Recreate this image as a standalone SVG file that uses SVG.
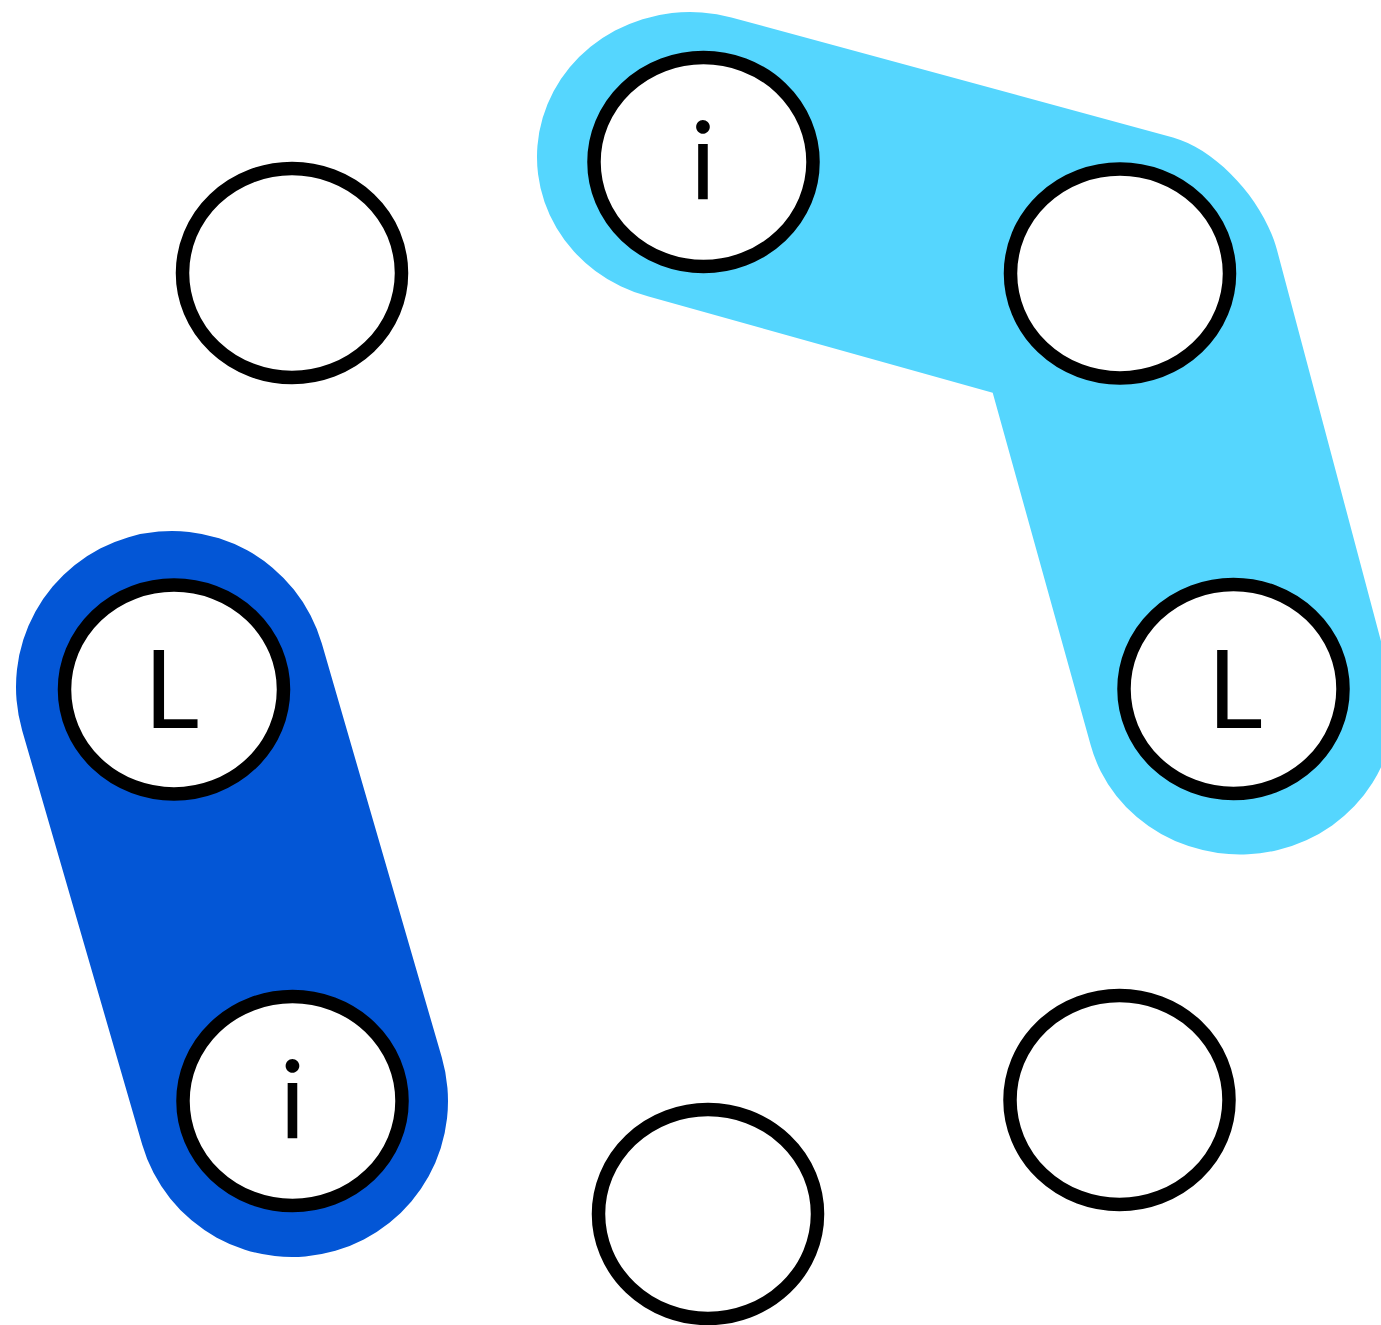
<svg xmlns="http://www.w3.org/2000/svg" width="1381" height="1325" viewBox="0 0 1381 1325">
  <style>
    .node ellipse { fill: #ffffff; stroke: #000000; stroke-width: 13.5; }
    .lbl { font-family: Lato, "Liberation Sans", sans-serif; font-size: 108px; fill: #000000; text-anchor: middle; }
    .light { fill: #55D6FE; }
    .dark { fill: none; stroke: #0356D6; stroke-width: 312; stroke-linecap: round; }
  </style>
  <rect width="1381" height="1325" fill="#ffffff"/>
  <g id="connectors">
    <path class="light" d="M 731.4,17.4 L 1173,137.5 C 1216.7,149.7 1263.5,200.1 1277,250 L 1389.3,672.4 A 153 145 0 0 1 1090.5,744.5 L 992.7,392.7 L 648.6,296.6 A 153 145 0 0 1 731.4,17.4 Z"/>
    <line class="dark" x1="172" y1="687" x2="292" y2="1101"/>
  </g>
  <g id="node-top" class="node">
    <ellipse cx="703.5" cy="162" rx="109.5" ry="104.5"/>
    <text class="lbl" x="703" y="200">i</text>
  </g>
  <g id="node-top-right" class="node">
    <ellipse cx="1120" cy="273.5" rx="109.5" ry="104.5"/>
  </g>
  <g id="node-right" class="node">
    <ellipse cx="1233.5" cy="689" rx="109.5" ry="104.5"/>
    <text class="lbl" x="1235" y="728">L</text>
  </g>
  <g id="node-bottom-right" class="node">
    <ellipse cx="1119.5" cy="1100" rx="109.5" ry="104.5"/>
  </g>
  <g id="node-bottom" class="node">
    <ellipse cx="708" cy="1214" rx="109.5" ry="104.5"/>
  </g>
  <g id="node-bottom-left" class="node">
    <ellipse cx="292.5" cy="1101" rx="109.5" ry="104.5"/>
    <text class="lbl" x="292.5" y="1139">i</text>
  </g>
  <g id="node-left" class="node">
    <ellipse cx="174" cy="689.5" rx="109.5" ry="104.5"/>
    <text class="lbl" x="171.5" y="728">L</text>
  </g>
  <g id="node-top-left" class="node">
    <ellipse cx="292" cy="273" rx="109.5" ry="104.5"/>
  </g>
</svg>
